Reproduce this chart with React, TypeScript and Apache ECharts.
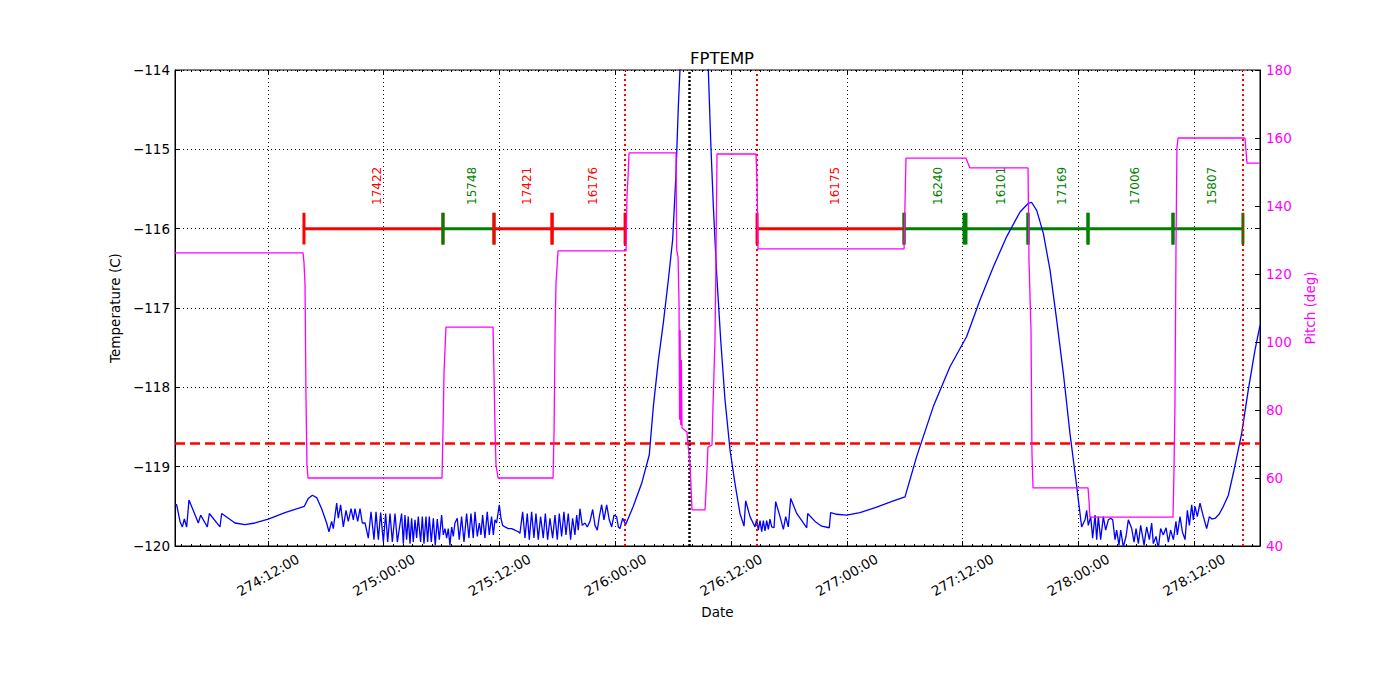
import React, { useEffect, useRef } from "react";
import * as echarts from "echarts";

// ---- axis ranges (time = hours after 274:00:00) ----
const X_MIN = 2.36;
const X_MAX = 114.84;
const xTickHours = [12, 24, 36, 48, 60, 72, 84, 96, 108];
const xTickLabels = [
  "274:12:00", "275:00:00", "275:12:00", "276:00:00", "276:12:00",
  "277:00:00", "277:12:00", "278:00:00", "278:12:00",
];
const tempTicks = [-120, -119, -118, -117, -116, -115, -114];
const pitchTicks = [40, 60, 80, 100, 120, 140, 160, 180];

// ---- FPTEMP (deg C) ----
const tempData: number[][] = [
  [2.36,-119.48],[2.53,-119.48],[2.88,-119.69],[3.12,-119.76],[3.33,-119.66],[3.57,-119.76],[3.81,-119.42],
  [4.78,-119.71],[5.02,-119.61],[5.71,-119.76],[5.92,-119.59],[7.02,-119.76],[7.20,-119.59],[8.58,-119.71],
  [9.62,-119.73],[10.65,-119.71],[12.03,-119.66],[13.76,-119.58],[15.77,-119.50],[16.18,-119.40],[16.60,-119.36],
  [17.05,-119.39],[17.56,-119.53],[18.08,-119.71],[18.32,-119.82],[18.60,-119.69],[18.77,-119.78],[19.12,-119.46],
  [19.29,-119.65],[19.53,-119.48],[19.81,-119.76],[20.09,-119.55],[20.33,-119.69],[20.61,-119.53],[20.85,-119.67],
  [21.02,-119.53],[21.30,-119.69],[21.54,-119.53],[21.78,-119.71],[22.06,-119.71],[22.40,-119.90],[22.68,-119.57],
  [22.99,-119.92],[23.20,-119.57],[23.44,-119.92],[23.68,-119.58],[23.96,-119.95],[24.20,-119.59],[24.41,-119.95],
  [24.65,-119.59],[24.89,-119.95],[25.17,-119.59],[25.41,-119.95],[25.85,-119.59],[26.03,-119.97],[26.20,-119.61],
  [26.37,-119.92],[26.54,-119.63],[26.72,-119.97],[26.89,-119.65],[27.06,-119.95],[27.24,-119.67],[27.41,-119.90],
  [27.58,-119.63],[27.82,-119.95],[28.00,-119.63],[28.17,-119.97],[28.38,-119.63],[28.55,-119.95],[28.72,-119.63],
  [28.93,-119.95],[29.14,-119.65],[29.34,-119.99],[29.55,-119.66],[29.76,-119.92],[30.00,-119.61],[30.17,-119.86],
  [30.35,-119.78],[30.52,-119.90],[30.69,-119.78],[30.86,-119.99],[31.04,-119.76],[31.21,-119.88],[31.38,-119.71],
  [31.62,-119.65],[31.83,-119.92],[32.07,-119.63],[32.32,-119.95],[32.59,-119.59],[32.83,-119.90],[33.04,-119.59],
  [33.28,-119.90],[33.46,-119.57],[33.70,-119.88],[33.91,-119.71],[34.08,-119.86],[34.25,-119.61],[34.49,-119.90],
  [34.73,-119.57],[34.94,-119.86],[35.18,-119.63],[35.36,-119.86],[35.53,-119.67],[35.70,-119.71],[35.98,-119.48],
  [36.15,-119.65],[36.32,-119.74],[36.57,-119.76],[36.91,-119.78],[37.26,-119.78],[37.60,-119.80],[37.95,-119.82],
  [38.12,-119.84],[38.40,-119.57],[38.64,-119.90],[38.88,-119.59],[39.09,-119.92],[39.33,-119.57],[39.57,-119.90],
  [39.78,-119.59],[40.02,-119.92],[40.26,-119.63],[40.54,-119.90],[40.75,-119.59],[40.99,-119.92],[41.23,-119.65],
  [41.51,-119.90],[41.75,-119.61],[41.99,-119.92],[42.20,-119.59],[42.44,-119.88],[42.68,-119.57],[42.89,-119.86],
  [43.13,-119.59],[43.37,-119.92],[43.58,-119.65],[43.82,-119.86],[44.00,-119.61],[44.17,-119.80],[44.34,-119.53],
  [44.58,-119.74],[44.86,-119.71],[45.10,-119.76],[45.38,-119.69],[45.66,-119.54],[45.90,-119.74],[46.14,-119.80],
  [46.35,-119.63],[46.59,-119.48],[46.83,-119.67],[47.11,-119.48],[47.38,-119.67],[47.63,-119.76],[47.87,-119.61],
  [48.14,-119.63],[48.32,-119.76],[48.49,-119.78],[48.77,-119.65],[49.08,-119.73],
  [49.87,-119.50],[50.74,-119.21],[51.53,-118.85],[51.95,-118.24],[52.47,-117.66],[52.98,-117.19],[53.50,-116.65],
  [53.95,-116.14],[54.30,-115.30],[54.54,-114.46],[54.71,-114.00],[55.30,-112.80],[56.20,-112.30],[57.10,-112.80],
  [57.65,-114.00],[57.89,-114.88],[58.17,-115.72],[58.51,-116.56],[58.93,-117.40],[59.38,-118.16],[59.90,-118.79],
  [60.41,-119.21],[60.93,-119.59],
  [61.35,-119.75],[61.52,-119.43],[61.97,-119.63],[62.49,-119.76],[62.66,-119.66],[62.83,-119.80],[63.01,-119.68],
  [63.18,-119.82],[63.35,-119.68],[63.52,-119.81],[63.70,-119.68],[63.87,-119.79],[64.04,-119.66],[64.22,-119.76],
  [64.46,-119.77],[64.63,-119.44],[65.08,-119.63],[65.43,-119.79],[65.67,-119.63],[65.94,-119.76],[66.19,-119.40],
  [66.81,-119.59],[67.50,-119.71],[67.85,-119.77],[67.95,-119.59],[68.71,-119.69],[69.40,-119.75],[70.19,-119.77],
  [70.33,-119.58],[70.95,-119.60],[71.99,-119.61],[73.37,-119.58],[75.10,-119.51],[76.83,-119.43],[78.04,-119.38],
  [79.25,-118.87],[80.98,-118.24],[82.70,-117.74],[84.43,-117.36],[85.81,-116.90],[87.20,-116.48],[88.58,-116.10],
  [89.96,-115.79],[90.82,-115.68],[91.17,-115.67],[91.69,-115.77],[92.38,-116.06],[93.07,-116.52],[93.76,-117.15],
  [94.45,-117.82],[95.14,-118.58],[95.84,-119.25],[96.35,-119.76],
  [96.70,-119.67],[96.87,-119.55],[97.04,-119.74],[97.29,-119.63],[97.49,-119.90],[97.74,-119.61],[97.91,-119.92],
  [98.08,-119.63],[98.32,-119.92],[98.60,-119.63],[98.84,-119.80],[99.12,-119.67],[99.36,-119.65],[99.57,-119.67],
  [99.81,-119.92],[99.98,-119.80],[100.22,-119.99],[100.40,-119.80],[100.67,-120.01],[100.95,-119.88],[101.19,-119.67],
  [101.54,-119.78],[101.78,-119.95],[101.99,-119.78],[102.23,-119.97],[102.47,-119.74],[102.82,-119.99],[103.09,-119.76],
  [103.37,-119.92],[103.61,-119.71],[103.78,-119.97],[104.06,-119.88],[104.30,-120.03],[104.54,-119.78],[104.82,-119.86],
  [105.10,-119.77],[105.34,-119.95],[105.58,-119.80],[105.86,-119.92],[106.13,-119.69],[106.27,-119.86],[106.55,-119.63],
  [106.79,-119.82],[107.07,-119.92],[107.31,-119.55],[107.52,-119.74],[107.76,-119.48],[107.93,-119.67],[108.10,-119.50],
  [108.34,-119.63],[108.62,-119.46],[108.97,-119.63],[109.31,-119.78],[109.59,-119.63],[109.85,-119.66],[110.20,-119.65],
  [110.60,-119.60],[111.04,-119.50],[111.56,-119.36],[112.08,-119.08],[112.94,-118.58],[113.63,-118.03],[114.32,-117.53],
  [114.84,-117.22],
];

// ---- Pitch (deg) ----
const pitchData: number[][] = [
  [2.36,126.2],[15.63,126.2],[15.73,123.5],[15.84,116.8],[15.94,83.8],[16.04,63.8],[16.15,60.0],[30.04,60.0],
  [30.14,73.5],[30.25,91.2],[30.45,104.4],[35.33,104.4],[35.43,90.6],[35.54,74.1],[35.64,63.8],[35.85,60.0],
  [41.55,60.0],[41.66,74.1],[41.76,102.6],[41.86,117.4],[42.07,126.8],[49.12,126.8],[49.22,143.2],[49.33,148.8],
  [49.43,155.6],[54.30,155.6],[54.37,127.1],[54.51,125.0],[54.61,111.5],[54.67,77.1],[54.72,103.5],[54.79,75.6],
  [54.85,94.7],[54.92,74.7],[55.44,73.5],[55.54,69.7],[55.75,64.4],[55.96,50.6],[57.31,50.6],[57.36,53.5],
  [57.51,62.4],[57.61,69.1],[58.03,69.7],[58.13,80.9],[58.34,100.6],[58.44,124.1],[58.55,155.3],[62.59,155.3],
  [62.70,146.8],[62.80,127.4],[77.94,127.4],[78.04,140.9],[78.14,154.1],[84.36,154.1],[84.57,152.6],[84.77,151.2],
  [90.79,151.2],[90.89,124.1],[91.10,103.5],[91.20,67.4],[91.31,57.1],[97.01,57.1],[97.11,53.5],[97.21,48.5],
  [105.82,48.5],[105.92,61.5],[106.02,80.9],[106.13,127.1],[106.23,157.1],[106.34,160.0],[113.28,160.0],
  [113.38,156.5],[113.49,152.6],[114.84,152.6],
];

// ---- observations ----
const obsids = ["17422", "15748", "17421", "16176", "16175", "16240", "16101", "17169", "17006", "15807"];
const obsStart = [15.73, 30.14, 35.43, 41.45, 62.70, 77.94, 84.36, 90.79, 97.01, 105.82];
const obsEnd = [30.14, 35.43, 41.45, 49.02, 77.94, 84.16, 90.79, 97.01, 105.82, 113.07];
const obsGroup = [0, 1, 0, 0, 0, 1, 1, 1, 1, 1];

const BAR_TEMP = -116;
const LABEL_TEMP = -115.46;
const LIMIT_TEMP = -118.7;
const redMarks = [49.02, 62.70, 113.07];
const blackMark = 55.64;

const FONT = "DejaVu Sans";
const groupColors = ["#ff0000", "#008000"];

export default function App() {
  const ref = useRef<HTMLDivElement>(null);
  useEffect(() => {
    const chart = echarts.init(ref.current!, null, { renderer: "svg" });

    const minorHours: number[] = [];
    for (let h = Math.ceil(X_MIN); h <= X_MAX; h++) if (h % 12 !== 0) minorHours.push(h);
    const fmtX = (v: number) => {
      const i = xTickHours.indexOf(Math.round(v));
      return i >= 0 ? xTickLabels[i] : "";
    };
    const minus = (v: number) => String(v).replace("-", "\u2212");

    const baseX = { type: "value", min: X_MIN, max: X_MAX, scale: true };
    const gridDot = { show: true, lineStyle: { color: "#000", type: [1, 3], width: 1 } };

    const option: any = {
      animation: false,
      backgroundColor: "#fff",
      textStyle: { fontFamily: FONT },
      title: {
        text: "FPTEMP",
        left: 717,
        top: 45,
        textAlign: "center",
        textStyle: { fontSize: 16.5, fontWeight: "normal", color: "#000", fontFamily: FONT },
      },
      grid: {
        left: 175, right: 140, top: 70, bottom: 154,
        show: true, borderColor: "#000", borderWidth: 1, backgroundColor: "transparent",
        outerBoundsMode: "none",
      },
      xAxis: [
        {
          ...baseX,
          position: "bottom",
          axisLine: { show: true, onZero: false, lineStyle: { color: "#000", width: 1 } },
          axisTick: { show: true, customValues: xTickHours, inside: true, length: 5, lineStyle: { color: "#000" } },
          axisLabel: {
            customValues: xTickHours, formatter: fmtX, rotate: 30, align: "center", verticalAlign: "middle",
            margin: 29, color: "#000", fontSize: 13.5, fontFamily: FONT,
          },
          splitLine: gridDot,
          name: "Date", nameLocation: "middle", nameGap: 52,
          nameTextStyle: { color: "#000", fontSize: 13.5, fontFamily: FONT },
        },
        {
          ...baseX, position: "bottom",
          axisLine: { show: false, onZero: false },
          axisTick: { show: true, customValues: minorHours, inside: true, length: 2, lineStyle: { color: "#000" } },
          axisLabel: { show: false }, splitLine: { show: false },
        },
        {
          ...baseX, position: "top",
          axisLine: { show: false, onZero: false },
          axisTick: { show: true, customValues: xTickHours, inside: true, length: 5, lineStyle: { color: "#000" } },
          axisLabel: { show: false }, splitLine: { show: false },
        },
        {
          ...baseX, position: "top",
          axisLine: { show: false, onZero: false },
          axisTick: { show: true, customValues: minorHours, inside: true, length: 2, lineStyle: { color: "#000" } },
          axisLabel: { show: false }, splitLine: { show: false },
        },
      ],
      yAxis: [
        {
          type: "value", min: tempTicks[0], max: tempTicks[tempTicks.length - 1], interval: 1, position: "left",
          axisLine: { show: true, onZero: false, lineStyle: { color: "#000" } },
          axisTick: { show: true, inside: true, length: 5, lineStyle: { color: "#000" } },
          axisLabel: { formatter: minus, margin: 5, color: "#000", fontSize: 13.5, fontFamily: FONT },
          splitLine: gridDot,
          name: "Temperature (C)", nameLocation: "middle", nameGap: 49, nameRotate: 90,
          nameTextStyle: { color: "#000", fontSize: 13.5, fontFamily: FONT },
        },
        {
          type: "value", min: pitchTicks[0], max: pitchTicks[pitchTicks.length - 1], interval: 20, position: "right",
          axisLine: { show: true, onZero: false, lineStyle: { color: "#000" } },
          axisTick: { show: true, inside: true, length: 5, lineStyle: { color: "#000" } },
          axisLabel: { margin: 6, color: "#ff00ff", fontSize: 13.5, fontFamily: FONT },
          splitLine: { show: false },
          name: "Pitch (deg)", nameLocation: "middle", nameGap: 30, nameRotate: 90,
          nameTextStyle: { color: "#ff00ff", fontSize: 13.5, fontFamily: FONT },
        },
        {
          type: "value", min: tempTicks[0], max: tempTicks[tempTicks.length - 1], interval: 1, position: "right",
          axisLine: { show: false, onZero: false },
          axisTick: { show: true, inside: true, length: 5, lineStyle: { color: "#000" } },
          axisLabel: { show: false }, splitLine: { show: false },
        },
      ],
      series: [
        {
          type: "custom",
          xAxisIndex: 0, yAxisIndex: 0, z: 3,
          encode: { x: [0, 1] },
          data: obsids.map((_, i) => [obsStart[i], obsEnd[i], i]),
          renderItem: (params: any, api: any) => {
            const i = params.dataIndex;
            const s = api.value(0);
            const e = api.value(1);
            const color = groupColors[obsGroup[i]];
            const p0 = api.coord([s, BAR_TEMP]);
            const p1 = api.coord([e, BAR_TEMP]);
            const yTop = api.coord([s, BAR_TEMP + 0.2])[1];
            const yBot = api.coord([s, BAR_TEMP - 0.2])[1];
            const lp = api.coord([(s + e) / 2, LABEL_TEMP]);
            const st = { stroke: color, lineWidth: 3 };
            return {
              type: "group",
              children: [
                { type: "line", shape: { x1: p0[0], y1: p0[1], x2: p1[0], y2: p1[1] }, style: st },
                { type: "line", shape: { x1: p0[0], y1: yTop, x2: p0[0], y2: yBot }, style: st },
                { type: "line", shape: { x1: p1[0], y1: yTop, x2: p1[0], y2: yBot }, style: st },
                {
                  type: "text", x: lp[0] + 4, y: lp[1], rotation: Math.PI / 2,
                  style: {
                    text: obsids[i], fill: color, fontSize: 12, fontFamily: FONT,
                    align: "center", verticalAlign: "middle",
                  },
                },
              ],
            };
          },
        },
        {
          type: "line", name: "FPTEMP", xAxisIndex: 0, yAxisIndex: 0, z: 4,
          data: tempData, symbol: "none", showSymbol: false,
          lineStyle: { color: "#0000ff", width: 1.3 },
          markLine: {
            silent: true, symbol: ["none", "none"], label: { show: false },
            data: [
              { yAxis: LIMIT_TEMP, lineStyle: { color: "#ff0000", type: [10, 5], width: 2.5 } },
              ...redMarks.map((x) => ({ xAxis: x, lineStyle: { color: "#ff0000", type: [2, 3], width: 2 } })),
              { xAxis: blackMark, lineStyle: { color: "#000", type: [2, 2], width: 2.5 } },
            ],
          },
        },
        {
          type: "line", name: "Pitch", xAxisIndex: 0, yAxisIndex: 1, z: 5,
          data: pitchData, symbol: "none", showSymbol: false,
          lineStyle: { color: "#ff00ff", width: 1.3 },
        },
      ],
    };
    chart.setOption(option);
    return () => chart.dispose();
  }, []);
  return (
    <div
      ref={ref}
      style={{ position: "fixed", left: 0, top: 0, width: 1400, height: 700, background: "#fff" }}
    />
  );
}
